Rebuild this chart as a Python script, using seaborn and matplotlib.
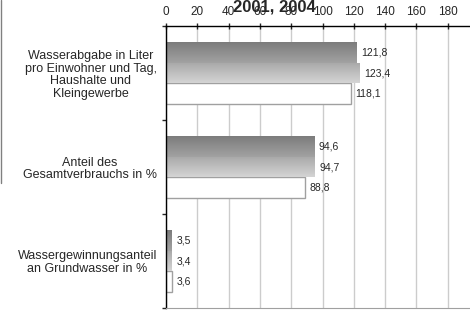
import numpy as np
import pandas as pd
import matplotlib
matplotlib.use('Agg')
import matplotlib.pyplot as plt
from matplotlib.colors import LinearSegmentedColormap
from matplotlib.lines import Line2D
import seaborn as sns

# Daten
kategorien = [
    'Wasserabgabe in Liter\npro Einwohner und Tag,\nHaushalte und\nKleingewerbe',
    'Anteil des\nGesamtverbrauchs in %',
    'Wassergewinnungsanteil\nan Grundwasser in %',
]
reihen = ['Reihe 1', 'Reihe 2', 'Reihe 3']
werte_1 = [121.8, 94.6, 3.5]
werte_2 = [123.4, 94.7, 3.4]
werte_3 = [118.1, 88.8, 3.6]
x_ticks = [0, 20, 40, 60, 80, 100, 120, 140, 160, 180, 200]
titel = '2001, 2004'

df = pd.DataFrame({
    'Kategorie': kategorien * 3,
    'Wert': werte_1 + werte_2 + werte_3,
    'Reihe': [r for r in reihen for _ in kategorien],
})

sns.set_style('white')
plt.rcParams['font.family'] = ['Liberation Sans', 'DejaVu Sans']

fig = plt.figure(figsize=(4.7, 3.1), dpi=100)
ax = fig.add_axes([166 / 470, 2 / 310, (479 - 166) / 470, (308 - 26) / 310])

sns.barplot(data=df, y='Kategorie', x='Wert', hue='Reihe', orient='h',
            palette=['#8c8c8c', '#c0c0c0', '#ffffff'], saturation=1,
            width=0.67, legend=False, linewidth=0, ax=ax)

# weisse Balken mit grauem Rand
for p in ax.containers[2]:
    p.set_edgecolor('#a0a0a0')
    p.set_linewidth(1)

# Verlauf in den grauen Balken
ylim = ax.get_ylim()
verlauf = [('#7c7c7c', '#a2a2a2'), ('#a8a8a8', '#d4d4d4')]
grad = np.linspace(0, 1, 64).reshape(-1, 1)
for cont, (c_top, c_bot) in zip(ax.containers[:2], verlauf):
    cmap = LinearSegmentedColormap.from_list('g', [c_top, c_bot])
    for p in cont:
        x0, y0, w, h = p.get_x(), p.get_y(), p.get_width(), p.get_height()
        im = ax.imshow(grad, cmap=cmap, aspect='auto', origin='upper',
                       extent=[x0, x0 + w, y0 + h, y0], zorder=1.5)
        im.set_clip_path(p)
ax.set_xlim(0, 200)
ax.set_ylim(ylim)

# Werte beschriften
for cont, werte in zip(ax.containers, [werte_1, werte_2, werte_3]):
    ax.bar_label(cont, labels=[f'{v:.1f}'.replace('.', ',') for v in werte],
                 padding=3.5, fontsize=7.5)

ax.set_xlabel('')
ax.set_ylabel('')
ax.xaxis.tick_top()
ax.set_xticks(x_ticks)
ax.xaxis.grid(True, color='#cccccc', linewidth=1)
ax.set_axisbelow(True)
ax.tick_params(axis='x', direction='inout', length=5, width=1, labelsize=8.5, pad=3)
ax.tick_params(axis='y', which='major', length=0, labelsize=9, pad=6.5)
ax.set_yticks([-0.5, 0.5, 1.5, 2.5], minor=True)
ax.tick_params(axis='y', which='minor', length=3, width=1, direction='out', left=True)
for lbl in ax.get_yticklabels():
    lbl.set_multialignment('center')
    lbl.set_linespacing(1.1)

for s in ['top', 'left']:
    ax.spines[s].set_color('black')
    ax.spines[s].set_linewidth(1)
ax.spines['right'].set_visible(False)
ax.spines['bottom'].set_color('#a0a0a0')

fig.text(274 / 470, 1 - 12 / 310, titel, ha='center', va='baseline',
         fontsize=12, fontweight='bold')

# Rahmenlinie links (Rest eines Nachbardiagramms)
fig.add_artist(Line2D([0.6 / 470, 0.6 / 470], [1, 1 - 183 / 310],
                      transform=fig.transFigure, color='#808080', linewidth=1))

fig.savefig('out.png', dpi=100)
